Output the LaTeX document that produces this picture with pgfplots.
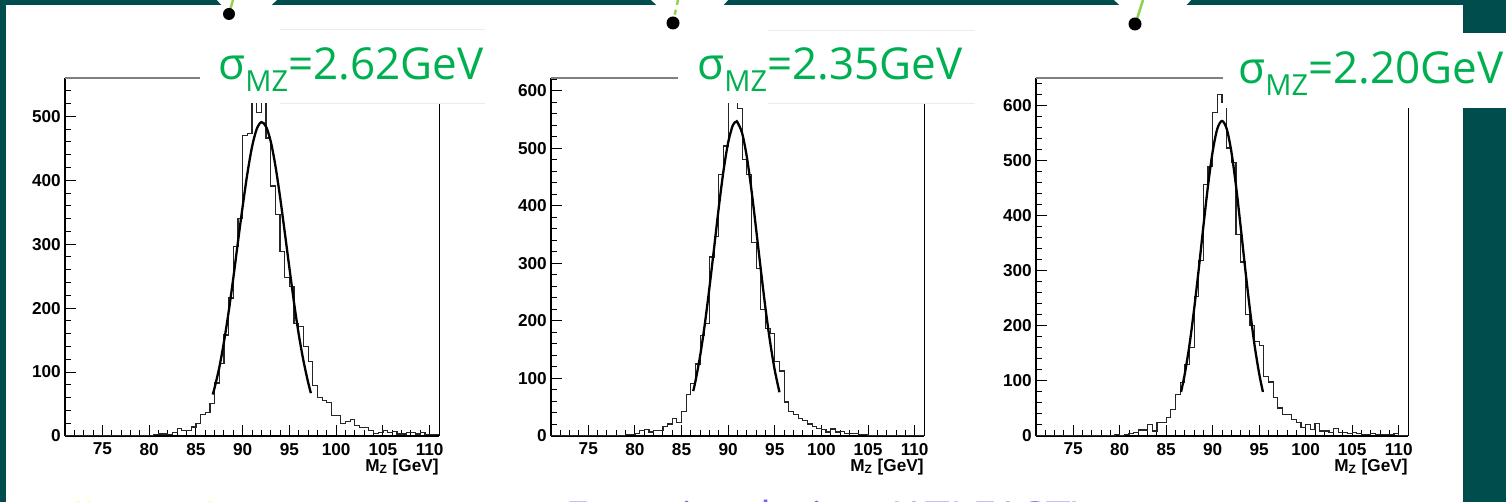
\documentclass[border=0pt]{standalone}
\usepackage{fontspec}
\setmainfont{Liberation Sans}
\newfontfamily\labelfont{Open Sans}
\usepackage{pgfplots}
\pgfplotsset{compat=1.18}
\definecolor{teal1}{RGB}{0,77,77}
\definecolor{sgreen}{RGB}{0,176,80}
\definecolor{lgreen}{RGB}{146,208,80}
\definecolor{ylw}{RGB}{255,255,0}
\definecolor{prp}{RGB}{102,102,255}

\pgfplotstableread{
x y
71 0
71.5 0
72 0
72.5 0
73 0
73.5 0
74 0
74.5 1
75 0
75.5 0
76 0
76.5 0
77 0
77.5 0
78 0
78.5 1
79 1
79.5 0
80 0
80.5 2
81 3
81.5 3
82 2
82.5 5
83 12
83.5 8
84 9
84.5 14
85 20
85.5 33
86 37
86.5 51
87 83
87.5 114
88 158
88.5 216
89 296
89.5 340
90 470
90.5 473
91 560
91.5 506
92 560
92.5 466
93 391
93.5 346
94 289
94.5 248
95 234
95.5 176
96 171
96.5 140
97 116
97.5 79
98 60
98.5 56
99 52
99.5 32
100 32
100.5 20
101 23
101.5 26
102 16
102.5 13
103 13
103.5 9
104 4
104.5 6
105 9
105.5 6
106 7
106.5 3
107 3
107.5 5
108 6
108.5 3
109 5
109.5 2
110 2
110.5 2
111 2
}\histA

\pgfplotstableread{
x y
71 0
71.5 0
72 0
72.5 0
73 0
73.5 1
74 1
74.5 0
75 0
75.5 0
76 0
76.5 0
77 0
77.5 0
78 1
78.5 1
79 2
79.5 3
80 5
80.5 10
81 11
81.5 7
82 10
82.5 10
83 16
83.5 21
84 30
84.5 24
85 43
85.5 72
86 91
86.5 125
87 174
87.5 195
88 311
88.5 346
89 454
89.5 504
90 622
90.5 622
91 569
91.5 481
92 454
92.5 336
93 291
93.5 220
94 187
94.5 178
95 129
95.5 113
96 59
96.5 42
97 38
97.5 31
98 27
98.5 21
99 17
99.5 13
100 11
100.5 7
101 12
101.5 7
102 8
102.5 5
103 4
103.5 5
104 3
104.5 3
105 1
105.5 0
106 0
106.5 0
107 0
107.5 0
108 0
108.5 0
109 0
109.5 0
110 0
110.5 0
111 0
}\histB

\pgfplotstableread{
x y
71 0
71.5 0
72 0
72.5 0
73 1
73.5 0
74 0
74.5 0
75 0
75.5 0
76 0
76.5 0
77 1
77.5 1
78 1
78.5 1
79 1
79.5 2
80 1
80.5 3
81 5
81.5 7
82 11
82.5 11
83 21
83.5 9
84 25
84.5 24
85 33
85.5 48
86 76
86.5 97
87 130
87.5 160
88 254
88.5 318
89 457
89.5 490
90 587
90.5 620
91 605
91.5 523
92 496
92.5 366
93 316
93.5 221
94 200
94.5 172
95 165
95.5 108
96 98
96.5 70
97 51
97.5 39
98 39
98.5 30
99 24
99.5 15
100 21
100.5 12
101 22
101.5 9
102 9
102.5 6
103 13
103.5 6
104 7
104.5 5
105 6
105.5 4
106 3
106.5 3
107 4
107.5 3
108 3
108.5 3
109 3
109.5 4
110 0
110.5 0
111 0
}\histC

\pgfplotsset{rootaxis/.style={
  scale only axis, height=179pt,
  xmin=71, xmax=111, ymin=0,
  axis x line*=bottom, axis y line*=left,
  axis line style={-, line width=0.75pt},
  xtick={75,80,...,110},
  minor xtick={72,73,...,110},
  minor ytick={20,40,...,640},
  tick align=inside,
  major tick length=5.7pt, minor tick length=3pt,
  tick style={black, line width=0.5pt},
  tick label style={font=\bfseries\fontsize{8.6}{10}\selectfont},
  /pgf/number format/assume math mode=true,
  yticklabel style={xshift=1.4pt},
  xlabel={M\textsubscript{Z} [GeV]},
  xlabel style={font=\bfseries\fontsize{8.6}{10}\selectfont, at={(rel axis cs:1,0)}, anchor=north east, inner sep=0pt, yshift=-11.5pt},
  anchor=south west,
}}

\begin{document}
\begin{tikzpicture}
\begin{scope}[x=0.5pt,y=-0.5pt,shift={(0pt,251pt)}]
\fill[white] (0,0) rectangle (1506,502);
\fill[teal1] (0,0) rectangle (1506,5);
\fill[teal1] (0,0) rectangle (6,502);
\fill[teal1] (1463,0) rectangle (1506,502);
\fill[white] (216,-1) -- (278,-1) -- (271,5.5) -- (222,5.5) -- cycle;
\fill[white] (650,-1) -- (729,-1) -- (723,5.5) -- (657,5.5) -- cycle;
\fill[white] (1113,-1) -- (1192,-1) -- (1186,5.5) -- (1120,5.5) -- cycle;
\draw[lgreen, line width=1.2pt] (233,0) -- (230,10);
\draw[lgreen, line width=1.2pt, dash pattern=on 2.5pt off 2.5pt] (678,0) -- (674,18);
\draw[lgreen, line width=1.3pt] (1143,0) -- (1137,19);
\fill[black] (229,14) circle (6);
\fill[black] (673,23) circle (6.5);
\fill[black] (1135,24) circle (6.5);
\end{scope}

\begin{axis}[rootaxis, at={(32.5pt,33pt)}, width=187pt, ymax=560, ytick={0,100,...,500}]
\addplot[const plot, black!85, line width=0.6pt] table[x=x,y=y] {\histA};
\addplot[smooth, black, line width=1.15pt] coordinates {(86.8,65) (87.0,75.5) (87.5,107) (88.0,147) (88.5,194) (89.0,247) (89.5,304) (90.0,359) (90.5,410) (91.0,452) (91.5,480) (92.0,491) (92.5,484) (93.0,461) (93.5,423) (94.0,374) (94.5,319) (95.0,263) (95.5,208) (96.0,159) (96.5,118) (97.0,84) (97.3,67)};
\end{axis}

\begin{axis}[rootaxis, at={(275.5pt,33pt)}, width=186.5pt, ymax=622, ytick={0,100,...,600}]
\addplot[const plot, black!85, line width=0.6pt] table[x=x,y=y] {\histB};
\addplot[smooth, black, line width=1.15pt] coordinates {(86.25,78) (86.5,96) (87,140) (87.5,195) (88,259) (88.5,328) (89,398) (89.5,461) (90,510) (90.5,540) (90.86,546) (91,545) (91.5,526) (92,485) (92.5,427) (93,359) (93.5,289) (94,222) (94.5,163) (95,114) (95.5,76)};
\end{axis}

\begin{axis}[rootaxis, at={(518pt,33pt)}, width=186pt, ymax=650, ytick={0,100,...,600}]
\addplot[const plot, black!85, line width=0.6pt] table[x=x,y=y] {\histC};
\addplot[smooth, black, line width=1.15pt] coordinates {(86.6,80) (87,113) (87.5,165) (88,230) (88.5,303) (89,381) (89.5,455) (90,517) (90.5,558) (91,572) (91.5,558) (92,517) (92.5,455) (93,381) (93.5,303) (94,230) (94.5,165) (95,113) (95.4,80)};
\end{axis}

\begin{scope}[x=0.5pt,y=-0.5pt,shift={(0pt,251pt)}]
\draw[black, line width=0.5pt] (439,78) -- (439,436);
\draw[black, line width=0.5pt] (924,78) -- (924,436);
\draw[black, line width=0.5pt] (1408,78) -- (1408,436);
\draw[gray, line width=0.9pt] (65,78) -- (439,78);
\draw[gray, line width=0.9pt] (551,78) -- (924,78);
\draw[gray, line width=0.9pt] (1036,78) -- (1408,78);
\fill[white] (200,30) rectangle (485,103);
\fill[white] (678,30) rectangle (975,103);
\fill[white] (1223,33) rectangle (1506,108);
\draw[black!8, line width=0.4pt] (280,29.5) -- (485,29.5) (280,103) -- (485,103);
\draw[black!8, line width=0.4pt] (768,30) -- (975,30) (768,103) -- (975,103);
\node[anchor=base west, inner sep=0pt, text=sgreen, font=\labelfont\fontsize{22}{26}\selectfont] at (218,80) {σ\raisebox{-6pt}{\fontsize{14.5}{16}\selectfont MZ}=2.62GeV};
\node[anchor=base west, inner sep=0pt, text=sgreen, font=\labelfont\fontsize{22}{26}\selectfont] at (697,80) {σ\raisebox{-6pt}{\fontsize{14.5}{16}\selectfont MZ}=2.35GeV};
\node[anchor=base west, inner sep=0pt, text=sgreen, font=\labelfont\fontsize{22}{26}\selectfont] at (1238,84) {σ\raisebox{-6pt}{\fontsize{14.5}{16}\selectfont MZ}=2.20GeV};
\node[anchor=base west, inner sep=0pt, text=ylw, font=\labelfont\fontsize{22}{26}\selectfont] at (22,536) {Full simulation};
\node[anchor=base west, inner sep=0pt, text=prp, font=\labelfont\fontsize{22}{26}\selectfont] at (565,534) {Fast simulation (ATLFAST)};
\end{scope}
\pgfresetboundingbox
\path[use as bounding box] (0,0) rectangle (753pt,251pt);
\end{tikzpicture}
\end{document}
